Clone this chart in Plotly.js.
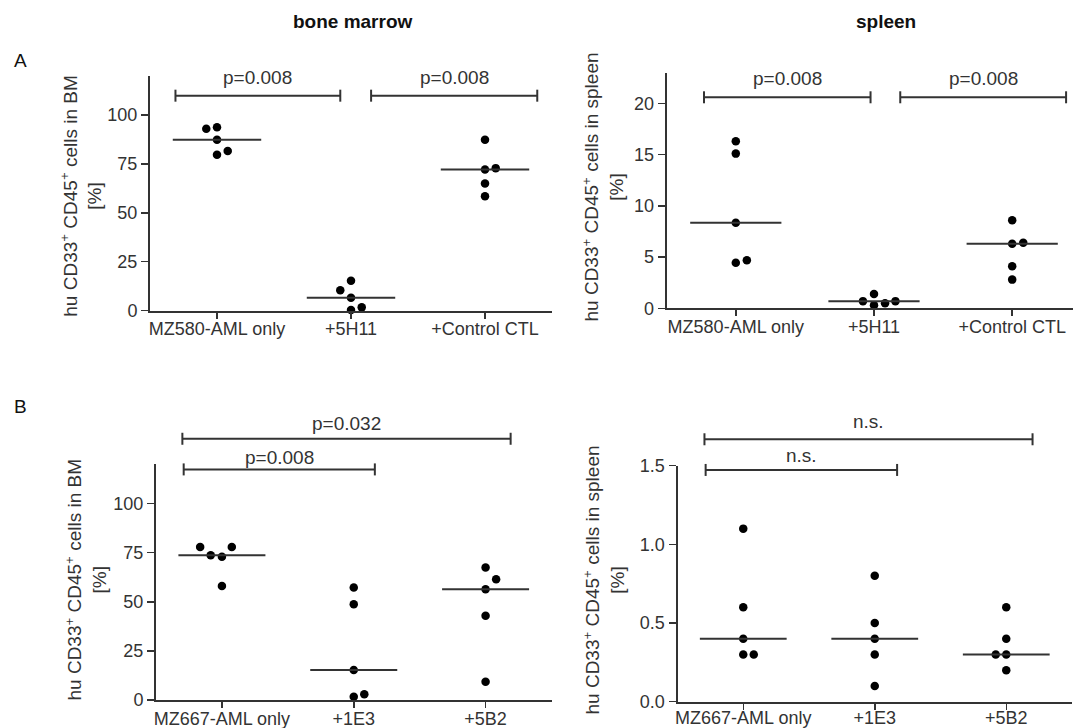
<!DOCTYPE html>
<html>
<head>
<meta charset="utf-8">
<script src="https://cdn.plot.ly/plotly-3.0.1.min.js"></script>
<style>
  html, body { margin: 0; padding: 0; background: #fff; }
  #chart { width: 1073px; height: 728px; }
</style>
</head>
<body>
<div id="chart"></div>
<script>
// ---- group labels ----
const groupsMZ580 = ['MZ580-AML only', '+5H11', '+Control CTL'];
const groupsMZ667 = ['MZ667-AML only', '+1E3', '+5B2'];

// ---- % hu CD33+ CD45+ cells, one value per mouse ----
// MZ580, bone marrow
const bm580Only = [92.9, 93.7, 87.3, 79.6, 81.5];
const bm580With5H11 = [10.5, 15.3, 6.6, 0.4, 1.7];
const bm580WithCtl = [87.3, 72.1, 72.8, 64.9, 58.4];
// MZ580, spleen
const sp580Only = [16.3, 15.1, 8.35, 4.45, 4.7];
const sp580With5H11 = [1.4, 0.7, 0.3, 0.5, 0.7];
const sp580WithCtl = [8.6, 6.3, 6.4, 4.1, 2.8];
// MZ667, bone marrow
const bm667Only = [77.9, 73.7, 72.9, 77.9, 58.0];
const bm667With1E3 = [57.3, 48.8, 15.3, 1.7, 2.9];
const bm667With5B2 = [67.5, 61.5, 56.4, 42.9, 9.3];
// MZ667, spleen
const sp667Only = [1.1, 0.6, 0.4, 0.3, 0.3];
const sp667With1E3 = [0.8, 0.5, 0.4, 0.3, 0.1];
const sp667With5B2 = [0.6, 0.4, 0.3, 0.3, 0.2];

// ---- y-axis tick values ----
const ticksBM = [0, 25, 50, 75, 100];
const ticksSpleen580 = [0, 5, 10, 15, 20];
const ticksSpleen667 = [0, 0.5, 1.0, 1.5];

// ---- significance labels ----
const pBM580 = ['p=0.008', 'p=0.008'];
const pSp580 = ['p=0.008', 'p=0.008'];
const pBM667 = ['p=0.032', 'p=0.008'];
const pSp667 = ['n.s.', 'n.s.'];

// ---------------------------------------------------------------
const W = 1073, H = 728;
const TXT = '#333333', LINE = '#333333';
const FONT = 'Liberation Sans, Arial, Helvetica, sans-serif';

const yTitleBM = 'hu CD33<sup>+</sup> CD45<sup>+</sup> cells in BM<br>[%]';
const yTitleSp = 'hu CD33<sup>+</sup> CD45<sup>+</sup> cells in spleen<br>[%]';

// panel frames are given in pixels (left, right, top, bottom)
const panels = [
  { id: '', px: [150, 552], py: [75.7, 310.7], xr: [-0.5, 2.5], yr: [0, 120],
    ticks: ticksBM, fmt: '', cats: groupsMZ580, lblShift: -5,
    groups: [
      { v: bm580Only,     dx: [-0.08, 0, 0, 0, 0.08] },
      { v: bm580With5H11, dx: [-0.08, 0, 0, 0, 0.08] },
      { v: bm580WithCtl,  dx: [0, 0, 0.08, 0, 0] } ],
    brackets: [
      { a: -0.31, b: 0.92, y: 109.8, ty: 119.0, t: pBM580[0] },
      { a: 1.15,  b: 2.39, y: 109.8, ty: 119.0, t: pBM580[1] } ],
    title: yTitleBM, tpos: [81.7, 196] },
  { id: '2', px: [666.7, 1073], py: [72.7, 308.3], xr: [-0.5, 2.44], yr: [0, 23],
    ticks: ticksSpleen580, fmt: '', cats: groupsMZ580, lblShift: -5,
    groups: [
      { v: sp580Only,     dx: [0, 0, 0, 0, 0.08] },
      { v: sp580With5H11, dx: [0, -0.08, 0, 0.08, 0.155] },
      { v: sp580WithCtl,  dx: [0, 0, 0.08, 0, 0] } ],
    brackets: [
      { a: -0.23, b: 0.975, y: 20.6, ty: 22.4, t: pSp580[0] },
      { a: 1.19,  b: 2.39,  y: 20.6, ty: 22.4, t: pSp580[1] } ],
    title: yTitleSp, tpos: [603.5, 187] },
  { id: '3', px: [156, 551.5], py: [464.3, 700], xr: [-0.5, 2.5], yr: [0, 120],
    ticks: ticksBM, fmt: '', cats: groupsMZ667, lblShift: -5,
    groups: [
      { v: bm667Only,    dx: [-0.165, -0.085, 0, 0.075, 0] },
      { v: bm667With1E3, dx: [0, 0, 0, 0, 0.08] },
      { v: bm667With5B2, dx: [0, 0.08, 0, 0, 0] } ],
    brackets: [
      { a: -0.30, b: 2.19, y: 133.0, ty: 140.7, t: pBM667[0] },
      { a: -0.29, b: 1.16, y: 117.4, ty: 123.4, t: pBM667[1] } ],
    title: yTitleBM, tpos: [86, 579.5] },
  { id: '4', px: [677.5, 1072], py: [465.7, 701.7], xr: [-0.5, 2.5], yr: [0, 1.5],
    ticks: ticksSpleen667, fmt: '.1f', cats: groupsMZ667, lblShift: -7,
    groups: [
      { v: sp667Only,    dx: [0, 0, 0, 0, 0.08] },
      { v: sp667With1E3, dx: [0, 0, 0, 0, 0] },
      { v: sp667With5B2, dx: [0, 0, -0.08, 0, 0] } ],
    brackets: [
      { a: -0.295, b: 2.2,  y: 1.668, ty: 1.778, t: pSp667[0] },
      { a: -0.286, b: 1.17, y: 1.473, ty: 1.562, t: pSp667[1] } ],
    title: yTitleSp, tpos: [603.5, 580] }
];

function median(arr) {
  const s = arr.slice().sort((a, b) => a - b);
  const m = Math.floor(s.length / 2);
  return s.length % 2 ? s[m] : (s[m - 1] + s[m]) / 2;
}

const traces = [];
const shapes = [];
const annotations = [];
const layout = {
  width: W, height: H,
  margin: { l: 0, r: 0, t: 0, b: 0 },
  paper_bgcolor: '#fff', plot_bgcolor: '#fff',
  showlegend: false,
  font: { family: FONT, color: TXT, size: 18 },
  shapes: shapes, annotations: annotations
};

panels.forEach(p => {
  const xd = [p.px[0] / W, p.px[1] / W];
  const yd = [1 - p.py[1] / H, 1 - p.py[0] / H];
  // data -> paper helpers (work outside the axis range as well)
  const toPX = v => xd[0] + (v - p.xr[0]) / (p.xr[1] - p.xr[0]) * (xd[1] - xd[0]);
  const toPY = v => yd[0] + (v - p.yr[0]) / (p.yr[1] - p.yr[0]) * (yd[1] - yd[0]);
  const xa = 'x' + p.id, ya = 'y' + p.id;

  layout['xaxis' + p.id] = {
    domain: xd, range: p.xr, anchor: ya, fixedrange: true,
    tickmode: 'array', tickvals: [0, 1, 2], ticktext: p.cats,
    ticks: 'outside', ticklen: 6, tickwidth: 1.5, tickcolor: LINE,
    ticklabelstandoff: p.lblShift,
    showline: true, linecolor: LINE, linewidth: 2,
    showgrid: false, zeroline: false,
    tickfont: { family: FONT, size: 18, color: TXT }
  };
  layout['yaxis' + p.id] = {
    domain: yd, range: p.yr, anchor: xa, fixedrange: true,
    tickmode: 'array', tickvals: p.ticks, tickformat: p.fmt,
    ticks: 'outside', ticklen: 7, tickwidth: 1.5, tickcolor: LINE,
    showline: true, linecolor: LINE, linewidth: 2,
    showgrid: false, zeroline: false,
    tickfont: { family: FONT, size: 18, color: TXT }
  };

  p.groups.forEach((g, i) => {
    traces.push({
      type: 'scatter', mode: 'markers', xaxis: xa, yaxis: ya,
      x: g.v.map((v, k) => i + g.dx[k]), y: g.v,
      marker: { color: '#000', size: 8.5 },
      cliponaxis: false, hoverinfo: 'y'
    });
    const m = median(g.v);
    traces.push({
      type: 'scatter', mode: 'lines', xaxis: xa, yaxis: ya,
      x: [i - 0.33, i + 0.33], y: [m, m],
      line: { color: LINE, width: 2 }, hoverinfo: 'skip'
    });
  });

  p.brackets.forEach(b => {
    const y = toPY(b.y), x0 = toPX(b.a), x1 = toPX(b.b), h = 6 / H;
    const ln = { color: LINE, width: 2 };
    shapes.push({ type: 'line', xref: 'paper', yref: 'paper', x0: x0, x1: x1, y0: y, y1: y, line: ln });
    shapes.push({ type: 'line', xref: 'paper', yref: 'paper', x0: x0, x1: x0, y0: y - h, y1: y + h, line: ln });
    shapes.push({ type: 'line', xref: 'paper', yref: 'paper', x0: x1, x1: x1, y0: y - h, y1: y + h, line: ln });
    annotations.push({
      xref: 'paper', yref: 'paper', x: (x0 + x1) / 2, y: toPY(b.ty),
      xanchor: 'center', yanchor: 'middle', showarrow: false,
      text: b.t, font: { family: FONT, size: 19, color: TXT }
    });
  });

  annotations.push({
    xref: 'paper', yref: 'paper', x: p.tpos[0] / W, y: 1 - p.tpos[1] / H,
    xanchor: 'center', yanchor: 'middle', showarrow: false, textangle: -90,
    text: p.title, font: { family: FONT, size: 19, color: TXT }
  });
});

// column headers and panel letters
annotations.push(
  { xref: 'paper', yref: 'paper', x: 352.7 / W, y: 1 - 21.7 / H, xanchor: 'center', yanchor: 'middle',
    showarrow: false, text: '<b>bone marrow</b>', font: { family: FONT, size: 19, color: '#111' } },
  { xref: 'paper', yref: 'paper', x: 886 / W, y: 1 - 21.7 / H, xanchor: 'center', yanchor: 'middle',
    showarrow: false, text: '<b>spleen</b>', font: { family: FONT, size: 19, color: '#111' } },
  { xref: 'paper', yref: 'paper', x: 20 / W, y: 1 - 60 / H, xanchor: 'center', yanchor: 'middle',
    showarrow: false, text: 'A', font: { family: FONT, size: 19, color: '#111' } },
  { xref: 'paper', yref: 'paper', x: 20 / W, y: 1 - 406.7 / H, xanchor: 'center', yanchor: 'middle',
    showarrow: false, text: 'B', font: { family: FONT, size: 19, color: '#111' } }
);

Plotly.newPlot('chart', traces, layout, { staticPlot: true, displayModeBar: false });
</script>
</body>
</html>
